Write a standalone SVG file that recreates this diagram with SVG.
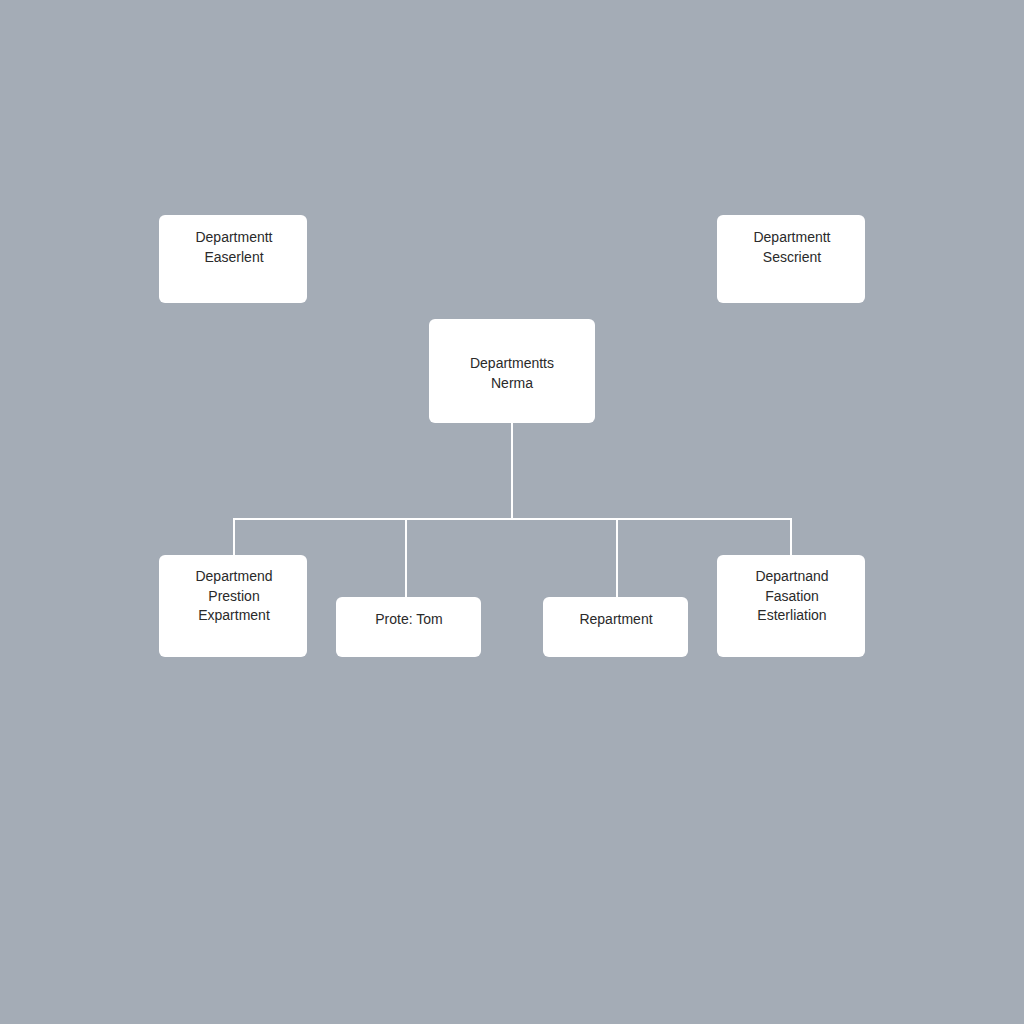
<svg xmlns="http://www.w3.org/2000/svg" width="1024" height="1024" viewBox="0 0 1024 1024">
<style>
.node rect{fill:#ffffff;}
.node text{font-family:"Liberation Sans",Arial,sans-serif;font-size:14px;fill:#2a2a2a;text-anchor:middle;}
.conn{stroke:#ffffff;stroke-width:2;fill:none;}
</style>
<rect x="0" y="0" width="1024" height="1024" fill="#a4acb6"/>
<g id="connectors">
<path class="conn" d="M512 423 V519 M234 519 H791 M234 518 V555 M406 518 V597 M617 518 V597 M791 518 V555"/>
</g>
<g id="node-top-left" class="node">
<rect x="159" y="215" width="148" height="88" rx="6"/>
<text x="234" y="242">Departmentt</text>
<text x="234" y="262">Easerlent</text>
</g>
<g id="node-top-right" class="node">
<rect x="717" y="215" width="148" height="88" rx="6"/>
<text x="792" y="242">Departmentt</text>
<text x="792" y="262">Sescrient</text>
</g>
<g id="node-center" class="node">
<rect x="429" y="319" width="166" height="104" rx="6"/>
<text x="512" y="368">Departmentts</text>
<text x="512" y="388">Nerma</text>
</g>
<g id="node-bottom-1" class="node">
<rect x="159" y="555" width="148" height="102" rx="6"/>
<text x="234" y="581">Departmend</text>
<text x="234" y="601">Prestion</text>
<text x="234" y="620">Expartment</text>
</g>
<g id="node-bottom-2" class="node">
<rect x="336" y="597" width="145" height="60" rx="6"/>
<text x="409" y="624">Prote: Tom</text>
</g>
<g id="node-bottom-3" class="node">
<rect x="543" y="597" width="145" height="60" rx="6"/>
<text x="616" y="624">Repartment</text>
</g>
<g id="node-bottom-4" class="node">
<rect x="717" y="555" width="148" height="102" rx="6"/>
<text x="792" y="581">Departnand</text>
<text x="792" y="601">Fasation</text>
<text x="792" y="620">Esterliation</text>
</g>
</svg>
